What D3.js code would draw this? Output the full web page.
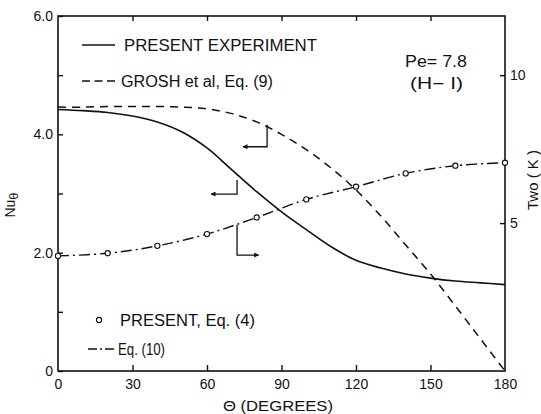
<!DOCTYPE html>
<html><head><meta charset="utf-8">
<script src="https://cdn.jsdelivr.net/npm/d3@7"></script>
<style>
body{margin:0;background:#fff}
svg{display:block}
text{font-family:"Liberation Sans",Arial,sans-serif;fill:#111}
</style>
</head><body>
<svg id="c" width="541" height="414"></svg>
<script>
// ---- data ----
const thetaCurve   = [0,10,20,30,40,50,60,70,80,90,100,110,120,130,140,150,160,170,180];
const nuExperiment = [4.42,4.40,4.37,4.31,4.21,4.04,3.77,3.40,3.03,2.69,2.39,2.10,1.87,1.74,1.64,1.57,1.52,1.49,1.46];
const nuGrosh      = [4.46,4.46,4.47,4.47,4.47,4.46,4.43,4.35,4.21,4.00,3.74,3.43,3.06,2.62,2.13,1.64,1.10,0.55,0.0];
const thetaTwo     = [0,20,40,60,80,100,120,140,160,180];
const twoPresent   = [3.89,3.98,4.23,4.63,5.19,5.80,6.23,6.68,6.94,7.04];
const twoEq10      = [3.89,3.98,4.23,4.63,5.19,5.80,6.23,6.68,6.94,7.04];
const xTicks = [0,30,60,90,120,150,180];
const yTicks = [0,2,4,6];
const yTickLabels = ["0","2.0","4.0","6.0"];
const yMinor = [1,3,5];
const rTicks = [5,10];

// ---- layout ----
const L=58, R=505, T=16, B=371;
const svg = d3.select("#c");
const x = d3.scaleLinear().domain([0,180]).range([L,R]);
const y = d3.scaleLinear().domain([0,6]).range([B,T]);
const yr = d3.scaleLinear().domain([0,12]).range([B,T]);
const ink = "#111";

// frame
svg.append("rect").attr("x",L).attr("y",T).attr("width",R-L).attr("height",B-T)
  .attr("fill","none").attr("stroke",ink).attr("stroke-width",1.6);

function styleAxis(g){
  g.select(".domain").remove();
  g.selectAll("line").attr("stroke",ink).attr("stroke-width",1.4);
  g.selectAll("text").attr("fill",ink).style("font-size","14px")
   .style("font-family",'"Liberation Sans",Arial,sans-serif');
}
// left axis
svg.append("g").attr("transform",`translate(${L},0)`)
  .call(d3.axisLeft(y).tickValues(yTicks).tickFormat((d,i)=>yTickLabels[i]).tickSizeInner(-5).tickSizeOuter(0).tickPadding(5))
  .call(styleAxis);
svg.append("g").attr("transform",`translate(${L},0)`)
  .call(d3.axisLeft(y).tickValues(yMinor).tickFormat("").tickSizeInner(-5).tickSizeOuter(0))
  .call(styleAxis);
// bottom axis
svg.append("g").attr("transform",`translate(0,${B})`)
  .call(d3.axisBottom(x).tickValues(xTicks).tickSizeInner(-6).tickSizeOuter(0).tickPadding(8))
  .call(styleAxis)
  .call(g=>g.selectAll(".tick").filter(d=>d===0||d===180).select("line").remove());
// top axis
svg.append("g").attr("transform",`translate(0,${T})`)
  .call(d3.axisTop(x).tickValues(xTicks.slice(1,-1)).tickFormat("").tickSizeInner(-5).tickSizeOuter(0))
  .call(styleAxis);
// right axis
svg.append("g").attr("transform",`translate(${R},0)`)
  .call(d3.axisRight(yr).tickValues(rTicks).tickFormat(d=>String(d)).tickSizeInner(-5).tickSizeOuter(0).tickPadding(5))
  .call(styleAxis);

// ---- series ----
const lineNu = d3.line().x((d,i)=>x(thetaCurve[i])).y(d=>y(d)).curve(d3.curveCatmullRom.alpha(0.5));
svg.append("path").datum(nuExperiment).attr("d",lineNu)
  .attr("fill","none").attr("stroke",ink).attr("stroke-width",1.6);
svg.append("path").datum(nuGrosh).attr("d",lineNu)
  .attr("fill","none").attr("stroke",ink).attr("stroke-width",1.5).attr("stroke-dasharray","8,6");
const lineTwo = d3.line().x((d,i)=>x(thetaTwo[i])).y(d=>yr(d)).curve(d3.curveCatmullRom.alpha(0.5));
svg.append("path").datum(twoEq10).attr("d",lineTwo)
  .attr("fill","none").attr("stroke",ink).attr("stroke-width",1.4).attr("stroke-dasharray","11,4,2,4");
svg.append("g").selectAll("circle").data(twoPresent).join("circle")
  .attr("cx",(d,i)=>x(thetaTwo[i])).attr("cy",d=>yr(d)).attr("r",2.6)
  .attr("fill","#fff").attr("stroke",ink).attr("stroke-width",1.1);

// ---- arrows (annotation, data units) ----
const defs = svg.append("defs");
defs.append("marker").attr("id","ah").attr("viewBox","0 0 10 10").attr("refX",9).attr("refY",5)
  .attr("markerWidth",7).attr("markerHeight",5).attr("markerUnits","userSpaceOnUse").attr("orient","auto")
  .append("path").attr("d","M0,0L10,5L0,10Z").attr("fill",ink);
const arrows = [
  [[84.2,4.16],[84.2,3.79],[74.5,3.79]],
  [[72.1,3.23],[72.1,2.99],[61.6,2.99]],
  [[72.1,2.47],[72.1,1.96],[80.8,1.96]]
];
arrows.forEach(a=>{
  svg.append("path").attr("d",d3.line().x(p=>x(p[0])).y(p=>y(p[1]))(a))
    .attr("fill","none").attr("stroke",ink).attr("stroke-width",1.3).attr("marker-end","url(#ah)");
});

// ---- legends & labels ----
svg.append("line").attr("x1",82).attr("x2",115).attr("y1",45).attr("y2",45).attr("stroke",ink).attr("stroke-width",1.6);
svg.append("text").attr("x",124).attr("y",51).style("font-size","17px").attr("textLength",193).attr("lengthAdjust","spacingAndGlyphs").text("PRESENT EXPERIMENT");
svg.append("line").attr("x1",82).attr("x2",115).attr("y1",81).attr("y2",81).attr("stroke",ink).attr("stroke-width",1.5).attr("stroke-dasharray","8,4.5");
svg.append("text").attr("x",121).attr("y",87).style("font-size","16px").attr("textLength",152).attr("lengthAdjust","spacingAndGlyphs").text("GROSH et al, Eq. (9)");
svg.append("text").attr("x",405).attr("y",67).style("font-size","16px").attr("textLength",62).attr("lengthAdjust","spacingAndGlyphs").text("Pe= 7.8");
svg.append("text").attr("x",410).attr("y",89).style("font-size","16px").attr("textLength",53).attr("lengthAdjust","spacingAndGlyphs").text("(H\u2212 I)");

svg.append("circle").attr("cx",99).attr("cy",320).attr("r",2.6).attr("fill","#fff").attr("stroke",ink).attr("stroke-width",1.1);
svg.append("text").attr("x",120).attr("y",326).style("font-size","16px").attr("textLength",135).attr("lengthAdjust","spacingAndGlyphs").text("PRESENT, Eq. (4)");
svg.append("line").attr("x1",88).attr("x2",115).attr("y1",349).attr("y2",349).attr("stroke",ink).attr("stroke-width",1.3).attr("stroke-dasharray","9,3,2,3");
svg.append("text").attr("x",118).attr("y",355).style("font-size","16px").attr("textLength",47).attr("lengthAdjust","spacingAndGlyphs").text("Eq. (10)");

svg.append("text").attr("x",278).attr("y",411).attr("text-anchor","middle").style("font-size","14px").attr("textLength",110).attr("lengthAdjust","spacingAndGlyphs").text("\u0398 (DEGREES)");
const nl = svg.append("text").attr("transform","translate(15,205) rotate(-90)").attr("text-anchor","middle").style("font-size","14px");
nl.append("tspan").text("Nu");
nl.append("tspan").attr("dy",3).style("font-size","13px").text("\u03b8");
svg.append("text").attr("transform","translate(538,180) rotate(-90)").attr("text-anchor","middle").style("font-size","15px").text("Two ( K )");
</script>
</body></html>
